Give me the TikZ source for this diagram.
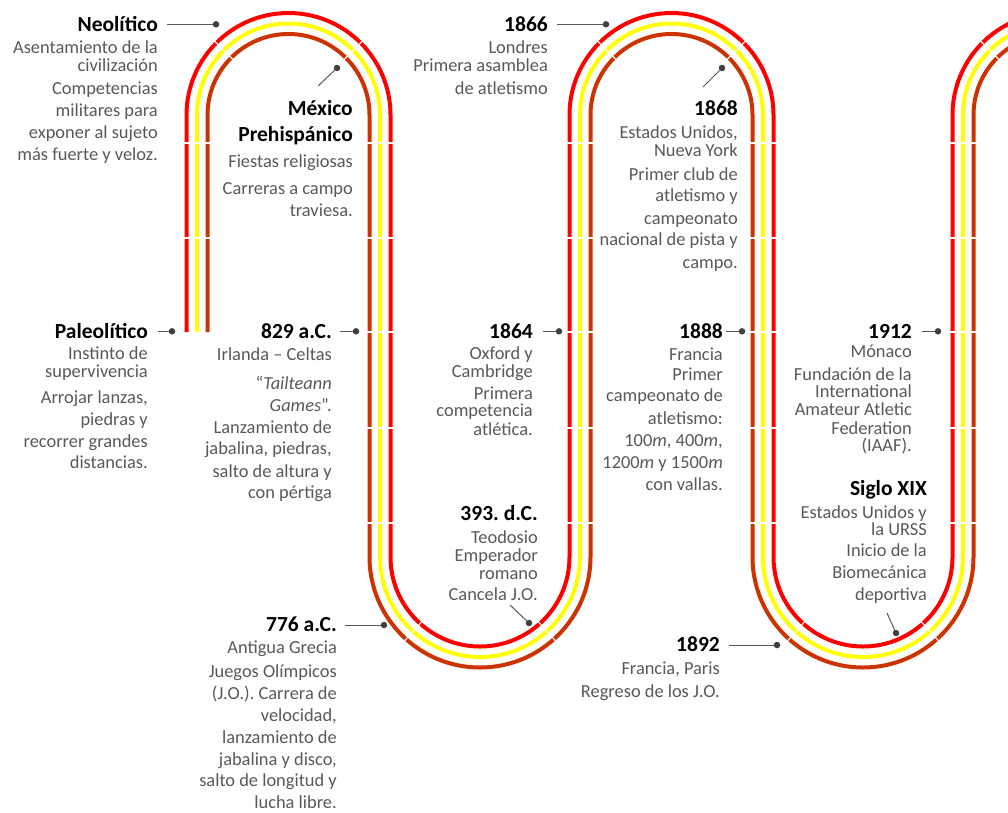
\documentclass[tikz,border=0pt]{standalone}
\usepackage{fontspec}
\setmainfont{Carlito}
\definecolor{trRed}{HTML}{FF0000}
\definecolor{trYel}{HTML}{FFFF00}
\definecolor{trOra}{HTML}{CC3300}
\definecolor{txtGray}{HTML}{595959}
\definecolor{dotGray}{HTML}{404040}
\newcommand\firstln{\rule{0pt}{15pt}}
\frenchspacing
\begin{document}
\begin{tikzpicture}[x=1pt,y=1pt,yscale=-1,
  lane/.style={line width=4pt},
  tick/.style={draw=white, line width=1.1pt},
  ttl/.style={font={\fontsize{21.5}{26}\selectfont\bfseries}, text=black, anchor=base east, inner sep=0pt, text height=13.4pt, text depth=0pt},
  ttlm/.style={font={\fontsize{21.5}{26.7}\selectfont\bfseries\lineskiplimit=-50pt\lineskip=0pt}, text=black, anchor=north east, inner sep=0pt, align=right},
  bd/.style={font={\fontsize{18.4}{18}\selectfont\frenchspacing\lineskiplimit=-50pt\lineskip=0pt}, text=txtGray, anchor=north east, inner sep=0pt, align=right},
  conn/.style={draw=txtGray, line width=1pt},
  dotn/.style={circle, fill=dotGray, inner sep=0pt, minimum size=6.5pt},
]
\fill[white] (0,0) rectangle (1008,812);
\useasboundingbox (0,0) rectangle (1008,812);

% ---------- track ----------
\begin{scope}
\clip (0,0) rectangle (1008,812);
\draw[lane, trRed] (186.5,332) -- (186.5,115)
  arc[start angle=180,end angle=360,radius=102] -- (390.5,557)
  arc[start angle=180,end angle=0,radius=89.5] -- (569.5,115)
  arc[start angle=180,end angle=360,radius=102] -- (773.5,557)
  arc[start angle=180,end angle=0,radius=89.5] -- (952.5,115)
  arc[start angle=180,end angle=360,radius=102] -- ++(0,200);
\draw[lane, trYel] (197,332) -- (197,115)
  arc[start angle=180,end angle=360,radius=91.5] -- (380,557)
  arc[start angle=180,end angle=0,radius=100] -- (580,115)
  arc[start angle=180,end angle=360,radius=91.5] -- (763,557)
  arc[start angle=180,end angle=0,radius=100] -- (963,115)
  arc[start angle=180,end angle=360,radius=91.5] -- ++(0,200);
\draw[lane, trOra] (207.5,332) -- (207.5,115)
  arc[start angle=180,end angle=360,radius=81] -- (369.5,557)
  arc[start angle=180,end angle=0,radius=110.5] -- (590.5,115)
  arc[start angle=180,end angle=360,radius=81] -- (752.5,557)
  arc[start angle=180,end angle=0,radius=110.5] -- (973.5,115)
  arc[start angle=180,end angle=360,radius=81] -- ++(0,200);
% lane marks
\foreach \y in {143,238} \draw[tick] (182,\y) -- (212,\y);
\foreach \x in {380,580,763,963} \foreach \y in {143,238,332,428,523}
  \draw[tick] (\x-15,\y) -- (\x+15,\y);
\foreach \cx in {288.5,671.5,1054.5} \foreach \a in {225,315}
  \draw[tick] (\cx,115) ++(\a:75) -- ++(\a:33);
\foreach \cx in {480,863} \foreach \a in {132,48}
  \draw[tick] (\cx,557) ++(\a:84) -- ++(\a:33);
\end{scope}

% ---------- Neolitico ----------
\node[ttl] (neoT) at (158,31) {Neolítico};
\node[dotn] (neoD) at (216,24.3) {};
\draw[conn, shorten <=9pt] (neoT.east) -- (neoD);
\node[bd] (neoB) at (158,38.5) {\firstln Asentamiento de la\\[-0.5pt] civilización\\[5pt] Competencias\\[4pt] militares para\\[4pt] exponer al sujeto\\[4pt] más fuerte y veloz.};

% ---------- Mexico ----------
\node[ttlm] (mexT) at (353,98) {\rule{0pt}{17pt}México\\ Prehispánico};
\node[bd] (mexB) at (353,152) {\firstln Fiestas religiosas\\[9.5pt] Carreras a campo\\[3.7pt] traviesa.};
\coordinate (mexC) at (318,86);
\node[dotn] (mexD) at (337,68) {};
\draw[conn] (mexC) -- (mexD);

% ---------- Paleolitico ----------
\node[ttl] (palT) at (148,338) {Paleolítico};
\node[dotn] (palD) at (172,331.3) {};
\draw[conn, shorten <=10pt] (palT.east) -- (palD);
\node[bd] (palB) at (148,344.3) {\firstln Instinto de\\[-0.5pt] supervivencia\\[8.5pt] Arrojar lanzas,\\[4pt] piedras y\\[4pt] recorrer grandes\\[3pt] distancias.};

% ---------- 829 a.C. ----------
\node[ttl] (c829T) at (332,338) {829 a.C.};
\node[dotn] (c829D) at (356,331.3) {};
\draw[conn, shorten <=8pt] (c829T.east) -- (c829D);
\node[bd] (c829B) at (332,345) {\firstln Irlanda – Celtas\\[11.3pt] “\textit{Tailteann}\\[3.5pt] \textit{Games}”.\\[4pt] Lanzamiento de\\[3.5pt] jabalina, piedras,\\[4.5pt] salto de altura y\\[3.5pt] con pértiga};

% ---------- 393 d.C. ----------
\node[ttl] (c393T) at (538,520) {393. d.C.};
\node[bd] (c393B) at (538,528.3) {\firstln Teodosio\\[0.4pt] Emperador\\[-0.4pt] romano\\[3.4pt] Cancela J.O.};
\coordinate (c393C) at (510,605);
\node[dotn] (c393D) at (529,623) {};
\draw[conn] (c393C) -- (c393D);

% ---------- 776 a.C. ----------
\node[ttl] (c776T) at (337,631.7) {776 a.C.};
\node[dotn] (c776D) at (384,625) {};
\draw[conn, shorten <=8pt] (c776T.east) -- (c776D);
\node[bd] (c776B) at (337,638) {\firstln Antigua Grecia\\[6pt] Juegos Olímpicos\\[4.3pt] (J.O.). Carrera de\\[3.8pt] velocidad,\\[3.8pt] lanzamiento de\\[4.3pt] jabalina y disco,\\[3.5pt] salto de longitud y\\[3.3pt] lucha libre.};

% ---------- 1866 ----------
\node[ttl] (c1866T) at (548,31) {1866};
\node[dotn] (c1866D) at (606,24.3) {};
\draw[conn, shorten <=9pt] (c1866T.east) -- (c1866D);
\node[bd] (c1866B) at (548,38.3) {\firstln Londres\\[0.4pt] Primera asamblea\\[4.6pt] de atletismo};

% ---------- 1868 ----------
\node[ttl] (c1868T) at (738,115) {1868};
\node[bd] (c1868B) at (738,123.3) {\firstln Estados Unidos,\\[-0.3pt] Nueva York\\[6pt] Primer club de\\[3.7pt] atletismo y\\[4.3pt] campeonato\\[3.7pt] nacional de pista y\\[4.6pt] campo.};
\coordinate (c1868C) at (703,87);
\node[dotn] (c1868D) at (722,68) {};
\draw[conn] (c1868C) -- (c1868D);

% ---------- 1864 ----------
\node[ttl] (c1864T) at (533,338) {1864};
\node[dotn] (c1864D) at (559,331.3) {};
\draw[conn, shorten <=9.5pt] (c1864T.east) -- (c1864D);
\node[bd] (c1864B) at (533,344.3) {\firstln Oxford y\\[0.4pt] Cambridge\\[3.3pt] Primera\\[-0.3pt] competencia\\[0.3pt] atlética.};

% ---------- 1888 ----------
\node[ttl] (c1888T) at (723,338) {1888};
\node[dotn] (c1888D) at (742,331.3) {};
\draw[conn, shorten <=3pt] (c1888T.east) -- (c1888D);
\node[bd] (c1888B) at (723,345) {\firstln Francia\\[2pt] Primer\\[3.7pt] campeonato de\\[4.3pt] atletismo:\\[4.7pt] 100\textit{m}, 400\textit{m},\\[3.6pt] 1200\textit{m} y 1500\textit{m}\\[4.4pt] con vallas.};

% ---------- 1912 ----------
\node[ttl] (c1912T) at (912,338) {1912};
\node[dotn] (c1912D) at (938,331.3) {};
\draw[conn, shorten <=10pt] (c1912T.east) -- (c1912D);
\node[bd] (c1912B) at (912,342.3) {\firstln Mónaco\\[4.7pt] Fundación de la\\[-0.7pt] International\\[0.4pt] Amateur Atletic\\[0.3pt] Federation\\[-0.3pt] (IAAF).};

% ---------- Siglo XIX ----------
\node[ttl] (sigT) at (927,495) {Siglo XIX};
\node[bd] (sigB) at (927,503.3) {\firstln Estados Unidos y\\[-1.3pt] la URSS\\[3pt] Inicio de la\\[4.3pt] Biomecánica\\[3.7pt] deportiva};
\coordinate (sigC) at (887,613);
\node[dotn] (sigD) at (896,633) {};
\draw[conn] (sigC) -- (sigD);

% ---------- 1892 ----------
\node[ttl] (c1892T) at (720,651.7) {1892};
\node[dotn] (c1892D) at (777,645) {};
\draw[conn, shorten <=9pt] (c1892T.east) -- (c1892D);
\node[bd] (c1892B) at (720,659) {\firstln Francia, Paris\\[5.3pt] Regreso de los J.O.};
\end{tikzpicture}
\end{document}
